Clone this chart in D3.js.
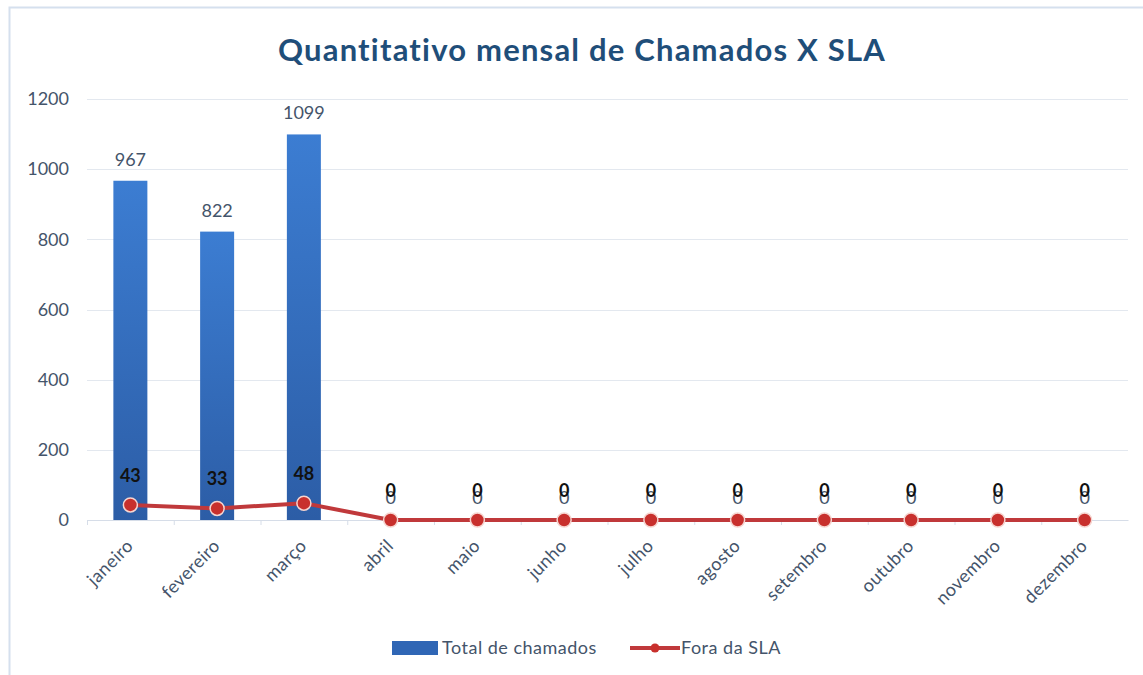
<!DOCTYPE html>
<html>
<head>
<meta charset="utf-8">
<script src="https://cdn.jsdelivr.net/npm/d3@7"></script>
<style>
  body { margin: 0; background: #fff; }
  text { font-family: Lato, "Open Sans", sans-serif; }
</style>
</head>
<body>
<div id="chart"></div>
<script>
var meses = ["janeiro", "fevereiro", "março", "abril", "maio", "junho", "julho",
             "agosto", "setembro", "outubro", "novembro", "dezembro"];
var totalChamados = [967, 822, 1099, 0, 0, 0, 0, 0, 0, 0, 0, 0];
var foraSla = [43, 33, 48, 0, 0, 0, 0, 0, 0, 0, 0, 0];
var yTicks = [0, 200, 400, 600, 800, 1000, 1200];

var width = 1143, height = 675;
var margin = {top: 99, right: 15, bottom: 155, left: 87};
var innerW = width - margin.left - margin.right,
    innerH = height - margin.top - margin.bottom;

var svg = d3.select("#chart").append("svg")
    .attr("width", width)
    .attr("height", height);

var defs = svg.append("defs");
var grad = defs.append("linearGradient")
    .attr("id", "barGrad").attr("x1", 0).attr("y1", 0).attr("x2", 0).attr("y2", 1);
grad.append("stop").attr("offset", "0%").attr("stop-color", "#3c7dd2");
grad.append("stop").attr("offset", "100%").attr("stop-color", "#2c5da6");

// chart border
svg.append("rect")
    .attr("x", 9.5).attr("y", 7.5)
    .attr("width", width).attr("height", height)
    .attr("fill", "none")
    .attr("stroke", "#d5e0ee")
    .attr("stroke-width", 2);

svg.append("text")
    .attr("x", 582).attr("y", 61)
    .attr("text-anchor", "middle")
    .attr("font-size", 31)
    .attr("font-weight", "bold")
    .attr("letter-spacing", 1.2)
    .attr("fill", "#1f4e79")
    .text("Quantitativo mensal de Chamados X SLA");

var g = svg.append("g")
    .attr("transform", "translate(" + margin.left + "," + margin.top + ")");

var x = d3.scaleBand().domain(meses).range([0, innerW]);
var y = d3.scaleLinear().domain([0, 1200]).range([innerH, 0]);

// grid
g.selectAll("line.grid").data(yTicks.slice(1)).enter()
  .append("line")
    .attr("class", "grid")
    .attr("x1", 0).attr("x2", innerW)
    .attr("y1", function(d) { return Math.round(y(d)) + 0.5; })
    .attr("y2", function(d) { return Math.round(y(d)) + 0.5; })
    .attr("stroke", "#e3e8ef");

// y axis labels
g.selectAll("text.ytick").data(yTicks).enter()
  .append("text")
    .attr("class", "ytick")
    .attr("x", -18)
    .attr("y", function(d) { return y(d); })
    .attr("dy", "0.35em")
    .attr("text-anchor", "end")
    .attr("font-size", 18)
    .attr("fill", "#44546a")
    .text(function(d) { return d; });

// x axis
var xAxis = g.append("g")
    .attr("transform", "translate(0," + innerH + ")")
    .call(d3.axisBottom(x).tickSize(0));
xAxis.select(".domain").attr("stroke", "#d6dde8");
xAxis.selectAll(".sep").data(meses).enter()
  .append("line")
    .attr("x1", function(d) { return x(d) + 0.5; })
    .attr("x2", function(d) { return x(d) + 0.5; })
    .attr("y1", 0).attr("y2", 5)
    .attr("stroke", "#d6dde8");
xAxis.selectAll(".tick text")
    .attr("font-family", "Lato, sans-serif")
    .attr("font-size", 18)
    .attr("letter-spacing", 0.4)
    .attr("fill", "#44546a")
    .attr("text-anchor", "end")
    .attr("x", 0).attr("y", 0).attr("dy", 0)
    .attr("transform", "translate(4,27) rotate(-45)");

// bars
var barW = 34;
g.selectAll("rect.bar").data(totalChamados).enter()
  .append("rect")
    .attr("class", "bar")
    .attr("x", function(d, i) { return x(meses[i]) + x.bandwidth() / 2 - barW / 2; })
    .attr("y", function(d) { return y(d); })
    .attr("width", barW)
    .attr("height", function(d) { return innerH - y(d); })
    .attr("fill", "url(#barGrad)");

// bar labels
g.selectAll("text.barlab").data(totalChamados).enter()
  .append("text")
    .attr("class", "barlab")
    .attr("x", function(d, i) { return x(meses[i]) + x.bandwidth() / 2; })
    .attr("y", function(d) { return y(d) - (d > 0 ? 15 : 16); })
    .attr("text-anchor", "middle")
    .attr("font-size", 18)
    .attr("fill", "#44546a")
    .text(function(d) { return d; });

// line
var line = d3.line()
    .x(function(d, i) { return x(meses[i]) + x.bandwidth() / 2; })
    .y(function(d) { return y(d); });

g.append("path")
    .datum(foraSla)
    .attr("fill", "none")
    .attr("stroke", "#c0393b")
    .attr("stroke-width", 4)
    .attr("stroke-linejoin", "round")
    .attr("d", line);

g.selectAll("circle.pt").data(foraSla).enter()
  .append("circle")
    .attr("class", "pt")
    .attr("cx", function(d, i) { return x(meses[i]) + x.bandwidth() / 2; })
    .attr("cy", function(d) { return y(d); })
    .attr("r", 7)
    .attr("fill", "#c8302d")
    .attr("stroke", "#f6d5d0")
    .attr("stroke-width", 1.5);

// line labels
g.selectAll("text.ptlab").data(foraSla).enter()
  .append("text")
    .attr("class", "ptlab")
    .attr("x", function(d, i) { return x(meses[i]) + x.bandwidth() / 2; })
    .attr("y", function(d) { return y(d) - 23; })
    .attr("text-anchor", "middle")
    .attr("font-size", 18)
    .attr("font-weight", "bold")
    .attr("fill", "#111")
    .text(function(d) { return d; });

// legend
var leg = svg.append("g").attr("transform", "translate(0,648)");
leg.append("rect")
    .attr("x", 392).attr("y", -7)
    .attr("width", 46).attr("height", 14)
    .attr("fill", "#2f66b5");
leg.append("text")
    .attr("x", 442).attr("y", 0).attr("dy", "0.35em")
    .attr("font-size", 18).attr("letter-spacing", 0.5).attr("fill", "#44546a")
    .text("Total de chamados");
leg.append("line")
    .attr("x1", 630).attr("x2", 680).attr("y1", 0).attr("y2", 0)
    .attr("stroke", "#c0393b").attr("stroke-width", 4);
leg.append("circle")
    .attr("cx", 655).attr("cy", 0).attr("r", 4.5)
    .attr("fill", "#c8302d");
leg.append("text")
    .attr("x", 681).attr("y", 0).attr("dy", "0.35em")
    .attr("font-size", 18).attr("letter-spacing", 0.5).attr("fill", "#44546a")
    .text("Fora da SLA");
</script>
</body>
</html>
